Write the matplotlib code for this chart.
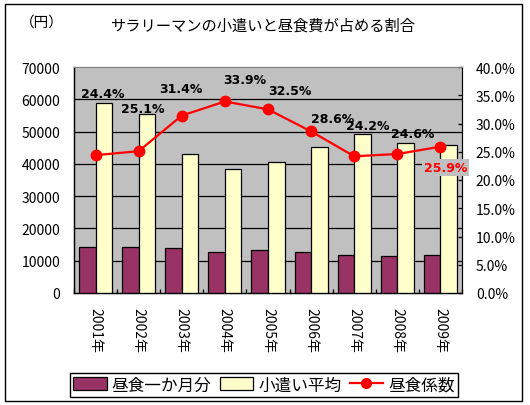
import matplotlib
matplotlib.use("Agg")
import matplotlib.pyplot as plt
from matplotlib.patches import Rectangle
from matplotlib.lines import Line2D
import numpy as np

plt.rcParams['font.family'] = ['Noto Sans CJK JP', 'DejaVu Sans']

# data
years = ['2001年', '2002年', '2003年', '2004年', '2005年', '2006年', '2007年', '2008年', '2009年']
lunch = [14400, 14100, 13800, 12800, 13200, 12800, 11900, 11600, 11900]
allowance = [58800, 55500, 43000, 38300, 40700, 45300, 49300, 46600, 45700]
ratio = [24.4, 25.1, 31.4, 33.9, 32.5, 28.6, 24.2, 24.6, 25.9]

left_ticks = [0, 10000, 20000, 30000, 40000, 50000, 60000, 70000]
right_ticks = [0, 5, 10, 15, 20, 25, 30, 35, 40]

# label offsets in pixels (dx, dy) relative to each point
label_offsets = [(7, 62), (4, 43), (-1, 27), (20, 22), (22, 19), (22, 13), (14, 31), (15, 21), (5, -21)]

W, H = 530, 406
fig = plt.figure(figsize=(W / 100, H / 100), dpi=100)
fig.patch.set_facecolor('white')

# outer chart border
fig.patches.append(Rectangle((5 / W, 1 - 402 / H), 517 / W, 397 / H, transform=fig.transFigure,
                             fill=False, edgecolor='black', linewidth=1.0))

ax = fig.add_axes([74 / W, 1 - 294 / H, 388 / W, 226 / H])
ax.set_facecolor('#C0C0C0')

x = np.arange(len(years))
bw = 0.385
ax.bar(x - bw / 2, lunch, bw, color='#993366', edgecolor='black', linewidth=0.9, zorder=3)
ax.bar(x + bw / 2, allowance, bw, color='#FFFFCC', edgecolor='black', linewidth=0.9, zorder=3)

for t in left_ticks[1:-1]:
    ax.axhline(t, color='black', linewidth=0.9, zorder=1)

ax.set_xlim(-0.5, len(years) - 0.5)
ax.set_ylim(0, 70000)
ax.set_yticks(left_ticks)
ax.set_yticklabels([str(t) for t in left_ticks], fontsize=10)
ax.tick_params(axis='y', length=0, pad=10)

ax.set_xticks(np.arange(len(years) + 1) - 0.5)
ax.set_xticklabels([])
ax.tick_params(axis='x', which='major', direction='in', length=3, width=0.9)
ax.set_xticks(x, minor=True)
ax.set_xticklabels(years, minor=True, rotation=270, fontsize=10)
ax.tick_params(axis='x', which='minor', length=0, pad=10)

for s in ['left', 'bottom']:
    ax.spines[s].set_color('black')
    ax.spines[s].set_linewidth(1.0)
ax.spines['top'].set_color('#808080')
ax.spines['right'].set_color('black')

ax2 = ax.twinx()
ax2.set_ylim(0, 40)
ax2.set_yticks(right_ticks)
ax2.set_yticklabels(['%.1f%%' % t for t in right_ticks], fontsize=10)
ax2.tick_params(axis='y', direction='in', length=3, width=0.9, pad=10)
ax2.spines['right'].set_color('black')
ax2.spines['top'].set_color('#808080')
ax2.plot(x, ratio, color='red', linewidth=1.6, marker='o', markersize=7.5, zorder=4)

for i, (v, off) in enumerate(zip(ratio, label_offsets)):
    kw = dict(textcoords='offset pixels', xytext=off, ha='center', va='center',
              fontsize=9, fontweight='bold', family=['DejaVu Sans'])
    if i == len(ratio) - 1:
        ax2.annotate('%.1f%%' % v, (x[i], v), color='red',
                     bbox=dict(boxstyle='square,pad=0.15', facecolor='#C0C0C0', edgecolor='none'),
                     annotation_clip=False, **kw)
    else:
        ax2.annotate('%.1f%%' % v, (x[i], v), color='black', **kw)

fig.text(263 / W, 1 - 26 / H, 'サラリーマンの小遣いと昼食費が占める割合', ha='center', va='center', fontsize=11)
fig.text(20 / W, 1 - 23 / H, '（円）', ha='left', va='center', fontsize=10.5)

handles = [Rectangle((0, 0), 1, 1, facecolor='#993366', edgecolor='black', linewidth=0.9),
           Rectangle((0, 0), 1, 1, facecolor='#FFFFCC', edgecolor='black', linewidth=0.9),
           Line2D([], [], color='red', linewidth=1.6, marker='o', markersize=7)]
leg = fig.legend(handles, ['昼食一か月分', '小遣い平均', '昼食係数'], loc='center',
                 bbox_to_anchor=(264 / W, 1 - 386 / H), ncol=3, fontsize=12,
                 frameon=True, fancybox=False, edgecolor='black', framealpha=1,
                 handlelength=2.0, handleheight=0.8, handletextpad=0.3, columnspacing=0.5,
                 borderpad=0.2, borderaxespad=0)
leg.get_frame().set_linewidth(1.0)

fig.savefig('out.png', dpi=100)
